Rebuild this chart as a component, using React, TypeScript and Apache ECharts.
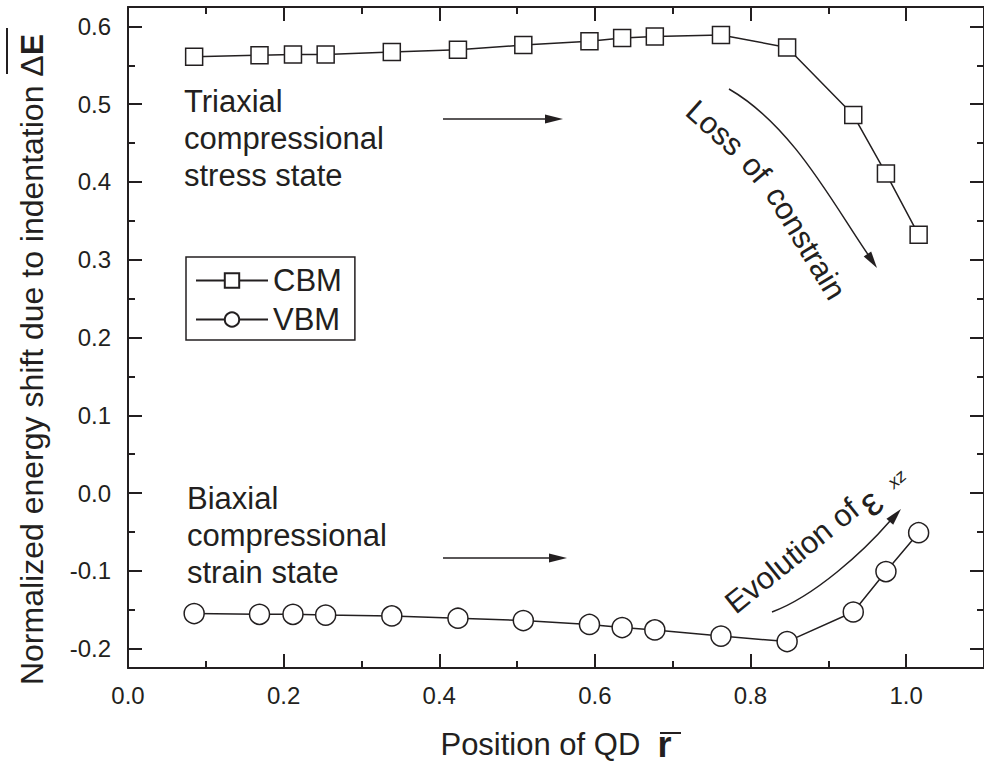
import React, { useEffect, useRef } from "react";
import * as echarts from "echarts";

// ---- data ----
const POSITIONS = [0.085, 0.169, 0.212, 0.254, 0.339, 0.424, 0.508, 0.593, 0.635, 0.677, 0.762, 0.847, 0.932, 0.974, 1.016];
const CBM = [0.561, 0.563, 0.564, 0.564, 0.567, 0.570, 0.576, 0.581, 0.585, 0.587, 0.589, 0.573, 0.486, 0.411, 0.332];
const VBM = [-0.155, -0.156, -0.156, -0.157, -0.158, -0.161, -0.164, -0.169, -0.173, -0.176, -0.184, -0.191, -0.153, -0.101, -0.051];
const SERIES_NAMES = ["CBM", "VBM"];
const X_MAJOR = [0, 0.2, 0.4, 0.6, 0.8, 1.0];
const X_MINOR = [0.1, 0.3, 0.5, 0.7, 0.9];
const Y_MAJOR = [-0.2, -0.1, 0, 0.1, 0.2, 0.3, 0.4, 0.5, 0.6];
const Y_MINOR = [-0.15, -0.05, 0.05, 0.15, 0.25, 0.35, 0.45, 0.55];
const X_TITLE = "Position of QD  {b|r}";
const Y_TITLE = "Normalized energy shift due to indentation Δ{b|E}";

const INK = "#231f20";
const FONT = "'Liberation Sans', Arial, Helvetica, sans-serif";

function arrowHead(tx: number, ty: number, dx: number, dy: number, len: number, hw: number) {
  const n = Math.hypot(dx, dy);
  const ux = dx / n, uy = dy / n;
  const bx = tx - ux * len, by = ty - uy * len;
  return [[tx, ty], [bx - uy * hw, by + ux * hw], [bx + uy * hw, by - ux * hw]];
}

function xAxisDef(position: string, values: number[], len: number, line: boolean, labels: boolean, extra: any = {}) {
  return {
    type: "value", position, min: 0, max: 1.1,
    splitLine: { show: false },
    axisLine: { show: line, onZero: false, lineStyle: { color: INK, width: 2 } },
    axisTick: { show: true, inside: true, length: len, customValues: values, lineStyle: { color: INK, width: 2 } },
    axisLabel: labels
      ? { show: true, customValues: values, formatter: (v: number) => v.toFixed(1), fontSize: 24, color: INK, fontFamily: FONT, margin: 15 }
      : { show: false },
    ...extra,
  };
}

function yAxisDef(position: string, values: number[], len: number, line: boolean, labels: boolean) {
  return {
    type: "value", position, min: -0.225, max: 0.625,
    splitLine: { show: false },
    axisLine: { show: line, onZero: false, lineStyle: { color: INK, width: 2 } },
    axisTick: { show: true, inside: true, length: len, customValues: values, lineStyle: { color: INK, width: 2 } },
    axisLabel: labels
      ? { show: true, customValues: values, formatter: (v: number) => v.toFixed(1), fontSize: 24, color: INK, fontFamily: FONT, margin: 17 }
      : { show: false },
  };
}

export default function App() {
  const ref = useRef<HTMLDivElement>(null);
  useEffect(() => {
    const chart = echarts.init(ref.current!, undefined, { renderer: "svg" });
    const text = (t: string, x: number, y: number, size: number, rot = 0, extra: any = {}) => ({
      type: "text", x, y, rotation: rot, silent: true,
      style: { text: t, fontSize: size, fontFamily: FONT, fill: INK, align: "center", verticalAlign: "middle", ...extra },
    });
    const deg = Math.PI / 180;
    const option: any = {
      animation: false,
      backgroundColor: "#fff",
      textStyle: { fontFamily: FONT },
      grid: { left: 128, top: 7, right: -4, bottom: 101, containLabel: false },
      legend: {
        orient: "vertical", left: 186, top: 257,
        itemWidth: 72, itemHeight: 18, itemGap: 8, itemTextGap: 12,
        padding: [8, 13, 5, 9],
        borderColor: INK, borderWidth: 1.5,
        textStyle: { fontSize: 31, color: INK, fontFamily: FONT, lineHeight: 31 },
        data: SERIES_NAMES,
      },
      xAxis: [
        xAxisDef("bottom", X_MAJOR, 14, true, true, {
          name: X_TITLE, nameLocation: "middle", nameGap: 58,
          nameTextStyle: {
            fontSize: 31, color: INK, fontFamily: FONT,
            rich: { b: { fontSize: 36, fontWeight: "bold", color: INK, fontFamily: FONT } },
          },
        }),
        xAxisDef("bottom", X_MINOR, 7, false, false),
        xAxisDef("top", X_MAJOR, 14, true, false),
        xAxisDef("top", X_MINOR, 7, false, false),
      ],
      yAxis: [
        yAxisDef("left", Y_MAJOR, 14, true, true),
        yAxisDef("left", Y_MINOR, 7, false, false),
        yAxisDef("right", Y_MAJOR, 14, true, false),
        yAxisDef("right", Y_MINOR, 7, false, false),
      ],
      series: [
        {
          name: SERIES_NAMES[0], type: "line", xAxisIndex: 0, yAxisIndex: 0,
          data: POSITIONS.map((x, i) => [x, CBM[i]]),
          symbol: "rect", symbolSize: 17, showSymbol: true,
          lineStyle: { color: INK, width: 1.5 },
          itemStyle: { color: "#fff", borderColor: INK, borderWidth: 1.5 },
          emphasis: { disabled: true }, z: 3,
        },
        {
          name: SERIES_NAMES[1], type: "line", xAxisIndex: 0, yAxisIndex: 0,
          data: POSITIONS.map((x, i) => [x, VBM[i]]),
          symbol: "circle", symbolSize: 20, showSymbol: true,
          lineStyle: { color: INK, width: 1.5 },
          itemStyle: { color: "#fff", borderColor: INK, borderWidth: 1.5 },
          emphasis: { disabled: true }, z: 3,
        },
      ],
      graphic: [
        // y axis title
        {
          type: "text", x: 32, y: 359.5, rotation: Math.PI / 2, silent: true,
          style: {
            text: Y_TITLE, fontSize: 32, fontFamily: FONT, fill: INK, align: "center", verticalAlign: "middle",
            rich: { b: { fontSize: 32, fontWeight: "bold", fontFamily: FONT, fill: INK } },
          },
        },
        { type: "line", silent: true, shape: { x1: 7, y1: 28, x2: 7, y2: 74 }, style: { stroke: INK, lineWidth: 2 } },
        // x title overline
        { type: "line", silent: true, shape: { x1: 660, y1: 733, x2: 681, y2: 733 }, style: { stroke: INK, lineWidth: 2 } },
        // annotations
        text("Triaxial\ncompressional\nstress state", 184, 82.5, 31, 0, { align: "left", verticalAlign: "top", lineHeight: 37 }),
        text("Biaxial\ncompressional\nstrain state", 187, 480, 31, 0, { align: "left", verticalAlign: "top", lineHeight: 37 }),
        { type: "line", silent: true, shape: { x1: 443, y1: 119, x2: 550, y2: 119 }, style: { stroke: INK, lineWidth: 1.5 } },
        { type: "polygon", silent: true, shape: { points: arrowHead(563, 119, 1, 0, 18, 4.5) }, style: { fill: INK } },
        { type: "line", silent: true, shape: { x1: 443, y1: 558, x2: 552, y2: 558 }, style: { stroke: INK, lineWidth: 1.5 } },
        { type: "polygon", silent: true, shape: { points: arrowHead(567, 558, 1, 0, 18, 4.5) }, style: { fill: INK } },
        // Loss of constrain
        text("Loss", 715, 128, 31, -42 * deg),
        text("of", 756, 169, 31, -50 * deg),
        text("constrain", 806, 243, 31, -59 * deg),
        {
          type: "bezierCurve", silent: true,
          shape: { x1: 729, y1: 89, cpx1: 793, cpy1: 126, cpx2: 833, cpy2: 204, x2: 869, y2: 256 },
          style: { stroke: INK, lineWidth: 1.5, fill: "none" },
        },
        { type: "polygon", silent: true, shape: { points: arrowHead(877, 268, 17, 25, 17, 4.5) }, style: { fill: INK } },
        // Evolution of epsilon_xz
        text("Evolution of", 792, 556, 31, 39 * deg),
        text("ε", 870, 502, 40, 40 * deg),
        text("xz", 897, 479, 18, 40 * deg, { fontStyle: "italic" }),
        {
          type: "bezierCurve", silent: true,
          shape: { x1: 772, y1: 612, cpx1: 815, cpy1: 596, cpx2: 864, cpy2: 551, x2: 890, y2: 521 },
          style: { stroke: INK, lineWidth: 1.5, fill: "none" },
        },
        { type: "polygon", silent: true, shape: { points: arrowHead(901, 509, 20.7, -23.7, 17, 4.5) }, style: { fill: INK } },
      ],
    };
    chart.setOption(option);
    return () => chart.dispose();
  }, []);
  return (
    <div style={{ position: "absolute", left: 0, top: 0, width: 984, height: 769, overflow: "hidden", background: "#fff" }}>
      <div ref={ref} style={{ width: 984, height: 769 }} />
    </div>
  );
}
